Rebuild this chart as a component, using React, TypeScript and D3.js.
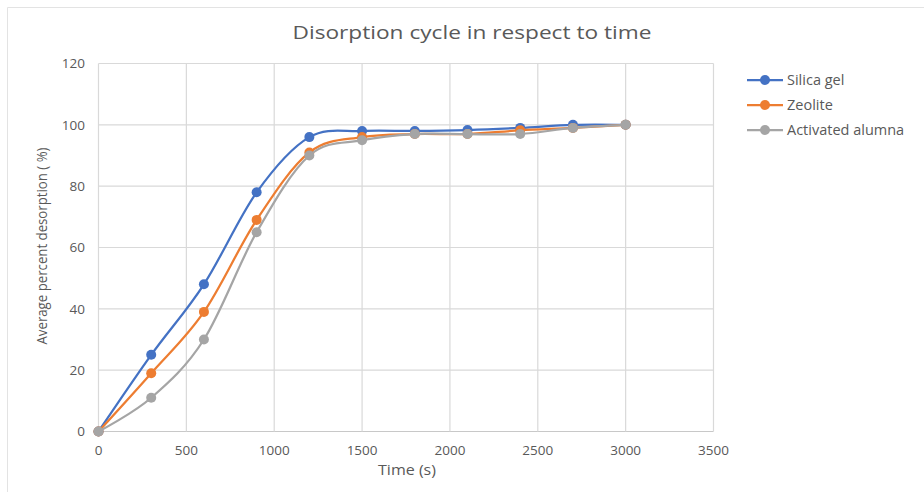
import React from "react";
import * as d3 from "d3";

const times = [0, 300, 600, 900, 1200, 1500, 1800, 2100, 2400, 2700, 3000];
const silicaGel = [0, 25, 48, 78, 96, 98, 98, 98.3, 99, 100, 100];
const zeolite = [0, 19, 39, 69, 91, 96, 97, 97, 98.2, 99, 100];
const activatedAlumna = [0, 11, 30, 65, 90, 95, 97, 97, 97, 99, 100];

const seriesNames = ["Silica gel", "Zeolite", "Activated alumna"];
const seriesColors = ["#4472C4", "#ED7D31", "#A5A5A5"];
const xTicks = [0, 500, 1000, 1500, 2000, 2500, 3000, 3500];
const yTicks = [0, 20, 40, 60, 80, 100, 120];

const W = 924;
const H = 492;
const FONT = "'Open Sans', 'Noto Sans', sans-serif";
const TEXT = "#595959";

export default function App() {
  const x = d3.scaleLinear().domain([0, 3500]).range([98.5, 713.5]);
  const y = d3.scaleLinear().domain([0, 120]).range([431.5, 63.5]);
  const seriesValues = [silicaGel, zeolite, activatedAlumna];

  const line = d3
    .line<[number, number]>()
    .x((d) => x(d[0]))
    .y((d) => y(d[1]))
    .curve(d3.curveCardinal.tension(0));

  return (
    <svg
      width={W}
      height={H}
      style={{ position: "absolute", left: 0, top: 0, background: "#fff" }}
      fontFamily={FONT}
    >
      <rect x={0} y={0} width={W} height={H} fill="#fff" />
      {/* chart frame */}
      <line x1={7.5} y1={7.5} x2={W} y2={7.5} stroke="#e3e3e3" />
      <line x1={7.5} y1={7.5} x2={7.5} y2={H} stroke="#e3e3e3" />

      <text x={472} y={39} textAnchor="middle" fontSize={17.5} fill={TEXT} textLength={359} lengthAdjust="spacingAndGlyphs">
        Disorption cycle in respect to time
      </text>

      {/* grid */}
      {yTicks.map((t) => (
        <line key={"gy" + t} x1={x(0)} x2={x(3500)} y1={y(t)} y2={y(t)} stroke={t === 0 ? "#c8c8c8" : "#d9d9d9"} strokeWidth={1.2} />
      ))}
      {xTicks.map((t) => (
        <line key={"gx" + t} x1={x(t)} x2={x(t)} y1={y(0)} y2={y(120)} stroke="#d9d9d9" strokeWidth={1.2} />
      ))}

      {/* tick labels */}
      {yTicks.map((t) => (
        <text key={"ly" + t} x={85} y={y(t) + 4.8} textAnchor="end" fontSize={13.5} fill={TEXT}>
          {t}
        </text>
      ))}
      {xTicks.map((t) => (
        <text key={"lx" + t} x={x(t)} y={455} textAnchor="middle" fontSize={13.5} fill={TEXT}>
          {t}
        </text>
      ))}

      <text x={407} y={475} textAnchor="middle" fontSize={15} fill={TEXT} textLength={58} lengthAdjust="spacingAndGlyphs">
        Time (s)
      </text>
      <text
        transform={`translate(47,246) rotate(-90)`}
        textAnchor="middle"
        fontSize={14}
        fill={TEXT}
        textLength={197}
        lengthAdjust="spacingAndGlyphs"
      >
        Average percent desorption ( %)
      </text>

      {/* series */}
      {seriesValues.map((vals, i) => {
        const pts = times.map((t, j) => [t, vals[j]] as [number, number]);
        return (
          <g key={seriesNames[i]}>
            <path d={line(pts) || ""} fill="none" stroke={seriesColors[i]} strokeWidth={2.25} />
            {pts.map((p, j) => (
              <circle key={j} cx={x(p[0])} cy={y(p[1])} r={5} fill={seriesColors[i]} />
            ))}
          </g>
        );
      })}

      {/* legend */}
      {seriesNames.map((name, i) => {
        const ly = 80 + i * 25;
        return (
          <g key={"lg" + name}>
            <line x1={747} x2={783} y1={ly} y2={ly} stroke={seriesColors[i]} strokeWidth={2.25} />
            <circle cx={765} cy={ly} r={5} fill={seriesColors[i]} />
            <text x={787} y={ly + 5} fontSize={14.5} fill={TEXT}>
              {name}
            </text>
          </g>
        );
      })}
    </svg>
  );
}
